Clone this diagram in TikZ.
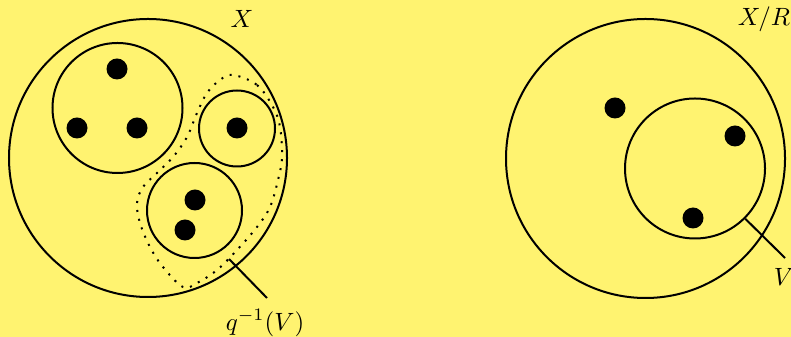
\documentclass[tikz,border=0pt]{standalone}
\begin{document}
\begin{tikzpicture}[x=0.4pt,y=-0.4pt,
  ring/.style={circle,draw,line width=0.8pt,inner sep=0pt},
  pt/.style={circle,fill=black,inner sep=0pt,minimum size=8.4pt},
  lead/.style={line width=0.8pt},
  lab/.style={inner sep=0pt}]
\definecolor{bg}{RGB}{255,243,112}
\fill[bg] (0,0) rectangle (791,337);
\useasboundingbox (0,0) rectangle (791,337);
% left space X
\node[ring,minimum size=111.2pt] (X) at (148,158) {};
\node[ring,minimum size=52pt] (A) at (117.5,108) {};
\node[ring,minimum size=30.4pt] (B) at (237,128.5) {};
\node[ring,minimum size=38pt] (C) at (194.5,210.5) {};
\node[pt] (a1) at (117,69) {};
\node[pt] (a2) at (77,128) {};
\node[pt] (a3) at (137,128) {};
\node[pt] (b1) at (237,128) {};
\node[pt] (c1) at (195,200) {};
\node[pt] (c2) at (185,230) {};
\draw[line width=0.8pt,dash pattern=on 0.8pt off 2.8pt]
  plot[smooth cycle,tension=0.6] coordinates {
  (233,75) (257,85) (273,107) (280,127) (282,157) (278,180) (270,207)
  (257,227) (237,250) (217,270) (197,283) (183,287) (163,267) (150,247)
  (140,223) (137,203) (143,187) (157,173) (173,157) (187,137) (197,113)
  (207,93) (220,80)};
\node[lab] (lx) at (242,19) {$X$};
\coordinate (q1) at (229,259);
\coordinate (q2) at (267,298);
\draw[lead] (q1) -- (q2);
\node[lab] (lq) at (265,323) {$q^{-1}(V)$};
% right space X/R
\node[ring,minimum size=111.6pt] (Y) at (645.5,158.5) {};
\node[ring,minimum size=56pt] (V) at (695,168.5) {};
\node[pt] (y1) at (615,108) {};
\node[pt] (y2) at (735,136) {};
\node[pt] (y3) at (693,218) {};
\node[lab] (lxr) at (764,19) {$X/R$};
\coordinate (v2) at (785,258);
\draw[lead] (V.-45) -- (v2);
\node[lab] (lv) at (784,277) {$V$};
\end{tikzpicture}
\end{document}
